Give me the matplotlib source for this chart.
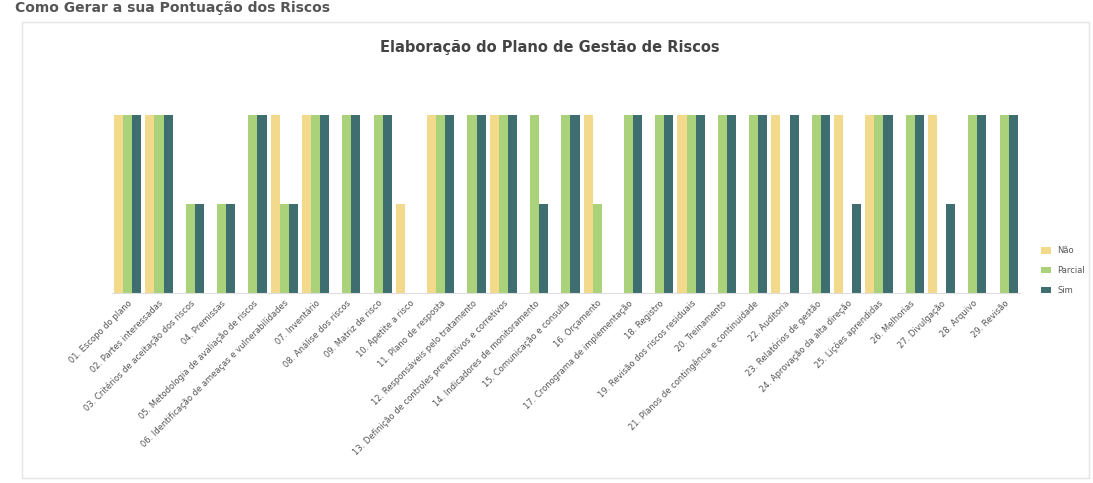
import matplotlib.pyplot as plt
import matplotlib.patches as mpatches
import numpy as np

# checklist items of the risk plan
etapas = [
    "01. Escopo do plano",
    "02. Partes interessadas",
    "03. Critérios de aceitação dos riscos",
    "04. Premissas",
    "05. Metodologia de avaliação de riscos",
    "06. Identificação de ameaças e vulnerabilidades",
    "07. Inventário",
    "08. Análise dos riscos",
    "09. Matriz de risco",
    "10. Apetite a risco",
    "11. Plano de resposta",
    "12. Responsáveis pelo tratamento",
    "13. Definição de controles preventivos e corretivos",
    "14. Indicadores de monitoramento",
    "15. Comunicação e consulta",
    "16. Orçamento",
    "17. Cronograma de implementação",
    "18. Registro",
    "19. Revisão dos riscos residuais",
    "20. Treinamento",
    "21. Planos de contingência e continuidade",
    "22. Auditoria",
    "23. Relatórios de gestão",
    "24. Aprovação da alta direção",
    "25. Lições aprendidas",
    "26. Melhorias",
    "27. Divulgação",
    "28. Arquivo",
    "29. Revisão",
]

series_names = ["Não", "Parcial", "Sim"]
nao = [2, 2, 0, 0, 0, 2, 2, 0, 0, 1, 2, 0, 2, 0, 0, 2, 0, 0, 2, 0, 0, 2, 0, 2, 2, 0, 2, 0, 0]
parcial = [2, 2, 1, 1, 2, 1, 2, 2, 2, 0, 2, 2, 2, 2, 2, 1, 2, 2, 2, 2, 2, 0, 2, 0, 2, 2, 0, 2, 2]
sim = [2, 2, 1, 1, 2, 1, 2, 2, 2, 0, 2, 2, 2, 1, 2, 0, 2, 2, 2, 2, 2, 2, 2, 1, 2, 2, 1, 2, 2]

colors = ['#f2d98c', '#a9d27a', '#3e6e70']

fig = plt.figure(figsize=(10.93, 4.83), dpi=100)

# card frame around the chart
fig.patches.append(mpatches.Rectangle((0.02, 0.01), 0.976, 0.945, transform=fig.transFigure,
                                      fill=False, edgecolor='#e4e4e4', linewidth=1))
fig.text(0.014, 0.984, "Como Gerar a sua Pontuação dos Riscos", fontsize=10,
         fontweight='bold', color='#555555', va='center', ha='left')

ax = fig.add_axes([0.1025, 0.393, 0.8305, 0.388])
x = np.arange(len(etapas))
width = 0.29
for i, (name, vals) in enumerate(zip(series_names, [nao, parcial, sim])):
    ax.bar(x + (i - 1) * width, vals, width, color=colors[i], label=name)

ax.set_xlim(-0.5, len(etapas) - 0.5)
ax.set_ylim(0, 2.1)
ax.set_xticks(x)
ax.set_xticklabels(etapas, rotation=45, ha='right', rotation_mode='anchor',
                   fontsize=6, color='#555555')
ax.tick_params(axis='x', length=0, pad=4)
ax.set_yticks([])
for side in ['top', 'right', 'left']:
    ax.spines[side].set_visible(False)
ax.spines['bottom'].set_color('#dddddd')

fig.text(0.503, 0.902, "Elaboração do Plano de Gestão de Riscos", fontsize=10.5,
         fontweight='bold', color='#444444', ha='center', va='center')

ax.legend(loc='center left', bbox_to_anchor=(1.015, 0.12), frameon=False,
          fontsize=6, handlelength=1.2, handleheight=0.8, labelspacing=1.3,
          labelcolor='#555555')

fig.savefig('out.png', dpi=100, facecolor='white')
